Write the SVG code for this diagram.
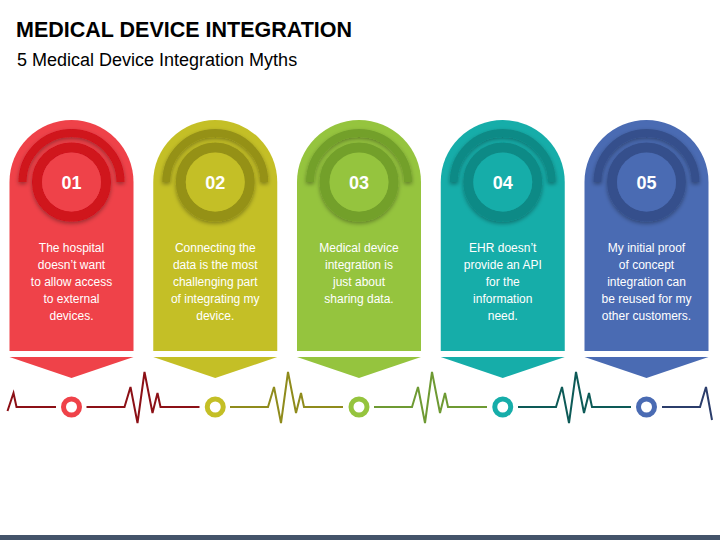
<svg xmlns="http://www.w3.org/2000/svg" width="720" height="540" viewBox="0 0 720 540">
<defs>
<style>
.title{font-family:"Liberation Sans",Arial,sans-serif;font-weight:bold;font-size:21.5px;fill:#000}
.sub{font-family:"Liberation Sans",Arial,sans-serif;font-size:18px;fill:#000}
.num{font-family:"Liberation Sans",Arial,sans-serif;font-weight:bold;font-size:18px;fill:#fff;text-anchor:middle}
.body{font-family:"Liberation Sans",Arial,sans-serif;font-size:12px;fill:#fff;text-anchor:middle}
.hb{fill:none;stroke-width:2;stroke-linejoin:miter}
.dot{fill:#fff;stroke-width:5}
.arc{fill:none;stroke-width:8}
.ring{fill:none;stroke-width:10}
</style>
<filter id="sh" x="-30%" y="-30%" width="160%" height="160%">
<feDropShadow dx="0" dy="2" stdDeviation="2" flood-color="#000" flood-opacity="0.35"/>
</filter>
</defs>
<rect width="720" height="540" fill="#fff"/>
<text class="title" x="16" y="37">MEDICAL DEVICE INTEGRATION</text>
<text class="sub" x="17" y="66">5 Medical Device Integration Myths</text>

<g id="connectors">
<path class="hb" stroke="#8C1016" d="M7.5,411 L13.5,393 L16.5,407 H56"/>
<path class="hb" stroke="#8C1016" d="M86.5,407 H124.5 L130.5,387 L137.5,423 L144.5,372 L152.5,413 L157.5,393 L160.5,407 H199.5"/>
<path class="hb" stroke="#8F8B1C" d="M230,407 H268 L274,387 L281,423 L288,372 L296,413 L301,393 L304,407 H343"/>
<path class="hb" stroke="#6E9A33" d="M374,407 H412 L418,387 L425,423 L432,372 L440,413 L445,393 L448,407 H487"/>
<path class="hb" stroke="#0D5A57" d="M518,407 H556 L562,387 L569,423 L576,372 L584,413 L589,393 L592,407 H631"/>
<path class="hb" stroke="#2B3D6B" d="M662,407 H700 L706,387 L712,420"/>
</g>

<g id="node1">
<path d="M9.5,182 A62,62 0 0 1 133.5,182 V351 H9.5 Z" fill="#EF4249"/>
<path d="M9.5,357 H133.5 L71.5,378 Z" fill="#EF4249"/>
<path class="arc" d="M22.5,182 A49,49 0 0 1 120.5,182" stroke="#D0121B" filter="url(#sh)"/>
<circle class="ring" cx="71.5" cy="182" r="34.5" stroke="#D0121B" filter="url(#sh)"/>
<circle cx="71.5" cy="182" r="29.5" fill="#EF4249"/>
<text class="num" x="71.5" y="188.5">01</text>
<text class="body" x="71.5" y="252">The hospital</text>
<text class="body" x="71.5" y="269">doesn’t want</text>
<text class="body" x="71.5" y="286">to allow access</text>
<text class="body" x="71.5" y="303">to external</text>
<text class="body" x="71.5" y="320">devices.</text>
<circle class="dot" cx="71.5" cy="407" r="8" stroke="#EF4249"/>
</g>

<g id="node2">
<path d="M153.25,182 A62,62 0 0 1 277.25,182 V351 H153.25 Z" fill="#C4BF26"/>
<path d="M153.25,357 H277.25 L215.25,378 Z" fill="#C4BF26"/>
<path class="arc" d="M166.25,182 A49,49 0 0 1 264.25,182" stroke="#959117" filter="url(#sh)"/>
<circle class="ring" cx="215.25" cy="182" r="34.5" stroke="#959117" filter="url(#sh)"/>
<circle cx="215.25" cy="182" r="29.5" fill="#C4BF26"/>
<text class="num" x="215.25" y="188.5">02</text>
<text class="body" x="215.25" y="252">Connecting the</text>
<text class="body" x="215.25" y="269">data is the most</text>
<text class="body" x="215.25" y="286">challenging part</text>
<text class="body" x="215.25" y="303">of integrating my</text>
<text class="body" x="215.25" y="320">device.</text>
<circle class="dot" cx="215.25" cy="407" r="8" stroke="#C4BF26"/>
</g>

<g id="node3">
<path d="M297,182 A62,62 0 0 1 421,182 V351 H297 Z" fill="#95C43E"/>
<path d="M297,357 H421 L359,378 Z" fill="#95C43E"/>
<path class="arc" d="M310,182 A49,49 0 0 1 408,182" stroke="#73A02C" filter="url(#sh)"/>
<circle class="ring" cx="359" cy="182" r="34.5" stroke="#73A02C" filter="url(#sh)"/>
<circle cx="359" cy="182" r="29.5" fill="#95C43E"/>
<text class="num" x="359" y="188.5">03</text>
<text class="body" x="359" y="252">Medical device</text>
<text class="body" x="359" y="269">integration is</text>
<text class="body" x="359" y="286">just about</text>
<text class="body" x="359" y="303">sharing data.</text>
<circle class="dot" cx="359" cy="407" r="8" stroke="#95C43E"/>
</g>

<g id="node4">
<path d="M440.75,182 A62,62 0 0 1 564.75,182 V351 H440.75 Z" fill="#16ADA9"/>
<path d="M440.75,357 H564.75 L502.75,378 Z" fill="#16ADA9"/>
<path class="arc" d="M453.75,182 A49,49 0 0 1 551.75,182" stroke="#108A86" filter="url(#sh)"/>
<circle class="ring" cx="502.75" cy="182" r="34.5" stroke="#108A86" filter="url(#sh)"/>
<circle cx="502.75" cy="182" r="29.5" fill="#16ADA9"/>
<text class="num" x="502.75" y="188.5">04</text>
<text class="body" x="502.75" y="252">EHR doesn’t</text>
<text class="body" x="502.75" y="269">provide an API</text>
<text class="body" x="502.75" y="286">for the</text>
<text class="body" x="502.75" y="303">information</text>
<text class="body" x="502.75" y="320">need.</text>
<circle class="dot" cx="502.75" cy="407" r="8" stroke="#16ADA9"/>
</g>

<g id="node5">
<path d="M584.5,182 A62,62 0 0 1 708.5,182 V351 H584.5 Z" fill="#4A6BB3"/>
<path d="M584.5,357 H708.5 L646.5,378 Z" fill="#4A6BB3"/>
<path class="arc" d="M597.5,182 A49,49 0 0 1 695.5,182" stroke="#36508C" filter="url(#sh)"/>
<circle class="ring" cx="646.5" cy="182" r="34.5" stroke="#36508C" filter="url(#sh)"/>
<circle cx="646.5" cy="182" r="29.5" fill="#4A6BB3"/>
<text class="num" x="646.5" y="188.5">05</text>
<text class="body" x="646.5" y="252">My initial proof</text>
<text class="body" x="646.5" y="269">of concept</text>
<text class="body" x="646.5" y="286">integration can</text>
<text class="body" x="646.5" y="303">be reused for my</text>
<text class="body" x="646.5" y="320">other customers.</text>
<circle class="dot" cx="646.5" cy="407" r="8" stroke="#4A6BB3"/>
</g>

<rect x="0" y="535" width="720" height="5" fill="#44546A"/>
</svg>
